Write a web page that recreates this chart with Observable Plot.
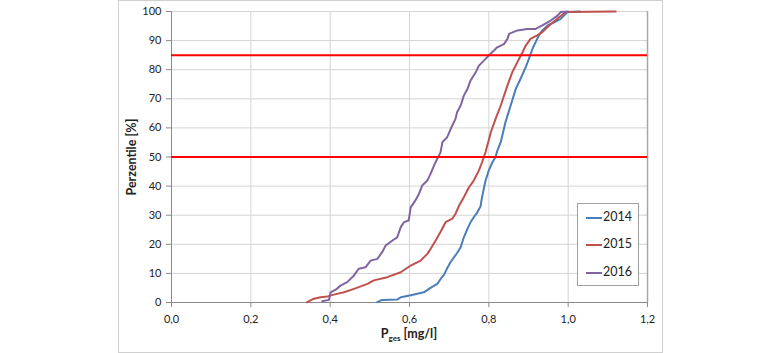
<!DOCTYPE html>
<html>
<head>
<meta charset="utf-8">
<script src="https://cdn.jsdelivr.net/npm/d3@7"></script>
<script src="https://cdn.jsdelivr.net/npm/@observablehq/plot@0.6"></script>
<style>
  html, body { margin: 0; padding: 0; background: #fff; }
  #wrap { position: relative; width: 780px; height: 353px; font-family: Lato, "Open Sans", sans-serif; }
  #box { position: absolute; left: 118px; top: 0px; width: 543px; height: 351px; border: 1px solid #d0d0d0; pointer-events: none; }
  #legend { position: absolute; left: 577px; top: 203px; width: 60px; height: 81px; border: 1px solid #a0a0a0; background: #fff; font-size: 12.5px; color: #222; }
  .li { position: absolute; left: 8px; height: 14px; line-height: 14px; }
  .li span.sw { display: inline-block; width: 16px; height: 2px; vertical-align: middle; margin-right: 1px; }
</style>
</head>
<body>
<div id="wrap"></div>
<script>
// ---- data ----
const xTicks = [0, 0.2, 0.4, 0.6, 0.8, 1.0, 1.2];
const yTicks = [0, 10, 20, 30, 40, 50, 60, 70, 80, 90, 100];
const thresholds = [50, 85];
const seriesNames = ["2014", "2015", "2016"];
const seriesColors = ["#4a7ebb", "#c0504d", "#8064a2"];

const x2014 = [0.519,0.531,0.569,0.578,0.603,0.636,0.653,0.670,0.678,0.687,0.695,0.704,0.720,0.729,0.737,0.746,0.754,0.762,0.771,0.779,0.782,0.788,0.792,0.800,0.809,0.817,0.821,0.830,0.842,0.855,0.868,0.880,0.893,0.901,0.910,0.918,0.926,0.935,0.948,0.965,0.981,0.994,0.998,1.03];
const y2014 = [0.1,0.9,1.0,1.8,2.5,3.5,5.0,6.4,8.0,9.5,11.8,14.0,17.0,19.0,22.4,25.3,27.6,29.3,31.0,33.0,35.5,39.6,42.0,45.4,48.2,50.0,52.0,55.1,62.0,67.7,73.4,76.9,80.9,83.7,87.2,89.5,91.8,93.5,95.2,96.3,97.5,99.2,99.8,100];

const x2015 = [0.342,0.359,0.376,0.393,0.409,0.435,0.460,0.494,0.510,0.544,0.578,0.603,0.628,0.645,0.653,0.666,0.678,0.691,0.708,0.716,0.725,0.737,0.750,0.762,0.775,0.783,0.792,0.805,0.817,0.830,0.847,0.859,0.872,0.885,0.893,0.905,0.922,0.935,0.952,0.977,0.994,1.12];
const y2015 = [0.1,1.3,1.8,2.1,2.7,3.5,4.7,6.4,7.6,8.7,10.4,12.7,14.4,16.7,18.4,21.3,24.2,27.6,28.8,30.5,33.3,36.2,39.6,41.9,45.4,48.2,51.8,58.5,63.1,67.7,74.6,79.1,82.6,86.0,88.3,90.6,91.8,92.9,95.2,98.0,99.8,100];

const x2016 = [0.380,0.397,0.401,0.414,0.426,0.443,0.460,0.472,0.489,0.502,0.519,0.531,0.540,0.557,0.569,0.578,0.586,0.598,0.603,0.615,0.624,0.632,0.645,0.653,0.662,0.670,0.678,0.683,0.695,0.704,0.716,0.720,0.729,0.737,0.746,0.754,0.767,0.775,0.788,0.800,0.813,0.821,0.838,0.847,0.851,0.872,0.897,0.918,0.935,0.956,0.973,0.981,1.0];
const y2016 = [0.4,0.9,3.5,4.4,5.8,7.0,9.3,11.6,12.1,14.4,15.0,17.3,19.6,21.3,22.4,25.9,27.6,28.2,32.7,35.1,37.4,40.2,41.9,44.2,47.1,49.4,51.5,55.1,56.8,59.7,63.1,65.4,67.7,71.1,73.4,76.3,79.1,81.4,83.2,84.9,86.6,87.7,88.8,90.6,92.3,93.5,94.0,94.0,95.2,96.9,98.6,99.8,100];

const seriesX = [x2014, x2015, x2016];
const seriesY = [y2014, y2015, y2016];
const rows = seriesNames.flatMap((name, i) => seriesX[i].map((x, j) => ({ year: name, x, y: seriesY[i][j] })));

const fmt = d => d.toFixed(1).replace(".", ",");

const plot = Plot.plot({
  width: 780,
  height: 353,
  marginLeft: 171,
  marginRight: 133,
  marginTop: 11,
  marginBottom: 51,
  style: { fontFamily: "Lato, 'Open Sans', sans-serif", fontSize: "11px", color: "#222", background: "transparent" },
  x: { domain: [0, 1.2] },
  y: { domain: [0, 100] },
  color: { domain: seriesNames, range: seriesColors },
  marks: [
    Plot.gridX(xTicks, { stroke: "#d4d4d4", strokeOpacity: 1 }),
    Plot.gridY(yTicks, { stroke: "#d4d4d4", strokeOpacity: 1 }),
    Plot.ruleX([1.2], { stroke: "#a8a8a8", strokeWidth: 1.5 }),
    Plot.ruleX([0], { stroke: "#8a8a8a" }),
    Plot.ruleY([0], { stroke: "#8a8a8a" }),
    Plot.axisX(xTicks, { tickFormat: fmt, tickSize: 5, tickPadding: 8, stroke: "#8a8a8a", label: null, fill: "#222" }),
    Plot.axisY(yTicks, { tickSize: 5, tickPadding: 5, stroke: "#8a8a8a", label: null, fill: "#222" }),
    Plot.line(rows, { x: "x", y: "y", z: "year", stroke: "year", strokeWidth: 2 }),
    Plot.ruleY(thresholds, { stroke: "#ff0000", strokeWidth: 2 })
  ]
});

const svg = d3.select(plot);
// axis titles
svg.append("text")
  .attr("transform", "translate(136,157) rotate(-90)")
  .attr("text-anchor", "middle")
  .attr("font-weight", "bold")
  .attr("font-size", "12.5px")
  .attr("fill", "#222")
  .text("Perzentile [%]");
const xt = svg.append("text")
  .attr("x", 409).attr("y", 338)
  .attr("text-anchor", "middle")
  .attr("font-weight", "bold")
  .attr("font-size", "12.5px")
  .attr("fill", "#222");
xt.append("tspan").text("P");
xt.append("tspan").attr("font-size", "8px").attr("dy", "3").text("ges");
xt.append("tspan").attr("dy", "-3").text(" [mg/l]");

const wrap = document.getElementById("wrap");
wrap.appendChild(plot);
plot.style.position = "absolute";
plot.style.left = "0px";
plot.style.top = "0px";

const box = document.createElement("div");
box.id = "box";
wrap.appendChild(box);

const legend = document.createElement("div");
legend.id = "legend";
const tops = [6, 33, 61];
seriesNames.forEach((n, i) => {
  const el = document.createElement("div");
  el.className = "li";
  el.style.top = tops[i] + "px";
  el.innerHTML = `<span class="sw" style="background:${seriesColors[i]}"></span>${n}`;
  legend.appendChild(el);
});
wrap.appendChild(legend);
</script>
</body>
</html>
